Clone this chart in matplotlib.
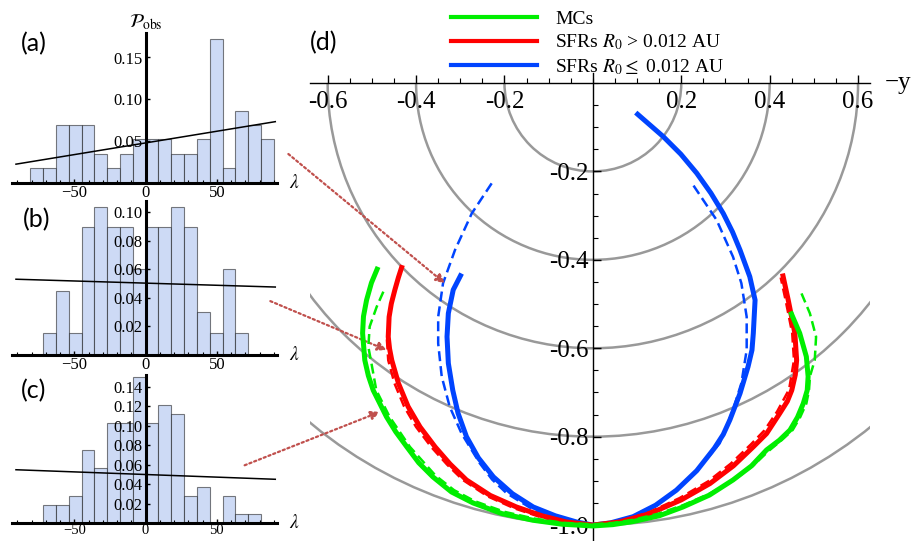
import numpy as np
import matplotlib.pyplot as plt
import matplotlib.transforms as mtransforms
from matplotlib.lines import Line2D
from matplotlib.patches import Arc
from matplotlib.ticker import MultipleLocator, FixedLocator, FormatStrFormatter

plt.rcParams['font.family'] = ['Liberation Serif', 'DejaVu Serif']
plt.rcParams['mathtext.fontset'] = 'stix'

# ---- histogram data (lambda in deg, probability per 9 deg bin) ----
lam_edges = [-81, -72, -63, -54, -45, -36, -27, -18, -9, 0,
             9, 18, 27, 36, 45, 54, 63, 72, 81, 90]
p_a = [0.017, 0.017, 0.069, 0.069, 0.069, 0.034, 0.017, 0.034, 0.052, 0.052,
       0.052, 0.034, 0.034, 0.052, 0.172, 0.017, 0.086, 0.069, 0.052]
p_b = [0.0, 0.015, 0.045, 0.015, 0.090, 0.104, 0.090, 0.090, 0.060, 0.090,
       0.090, 0.104, 0.090, 0.030, 0.015, 0.060, 0.015, 0.0, 0.0]
p_c = [0.0, 0.019, 0.019, 0.028, 0.075, 0.056, 0.103, 0.103, 0.150, 0.103,
       0.121, 0.112, 0.028, 0.037, 0.0, 0.028, 0.009, 0.009, 0.0]

# linear fits (value at lambda = -91 and +91)
trend_lam = [-91, 91]
trend_a = [0.022, 0.073]
trend_b = [0.053, 0.0475]
trend_c = [0.0547, 0.0449]

# ---- panel (d): curves (-y, z) ----
mc_x = [-0.486, -0.501, -0.512, -0.519, -0.521, -0.516, -0.508, -0.497, -0.467, -0.446, -0.421,
        -0.394, -0.362, -0.320, -0.271, -0.206, -0.136, -0.070, 0.0, 0.045, 0.091, 0.150, 0.204,
        0.264, 0.317, 0.359, 0.393, 0.422, 0.446, 0.463, 0.476, 0.485, 0.487, 0.483, 0.468, 0.447]
mc_y = [-0.416, -0.452, -0.491, -0.528, -0.566, -0.627, -0.662, -0.695, -0.755, -0.789, -0.823,
        -0.859, -0.891, -0.925, -0.950, -0.974, -0.989, -0.998, -1.002, -0.999, -0.992, -0.979, -0.959,
        -0.932, -0.898, -0.866, -0.830, -0.808, -0.785, -0.756, -0.725, -0.695, -0.664, -0.619, -0.566, -0.517]
mc_dash_x = [-0.474, -0.489, -0.505, -0.508, -0.501, -0.490, -0.460, -0.414, -0.356, -0.314, -0.267,
             -0.200, -0.134, -0.066, 0.0, 0.046, 0.091, 0.149, 0.204, 0.264, 0.321, 0.362, 0.398,
             0.427, 0.452, 0.469, 0.483, 0.489, 0.491, 0.502, 0.505, 0.491, 0.472]
mc_dash_y = [-0.472, -0.506, -0.551, -0.597, -0.634, -0.695, -0.755, -0.823, -0.888, -0.921, -0.946,
             -0.970, -0.985, -0.995, -0.998, -0.995, -0.988, -0.974, -0.955, -0.929, -0.897, -0.866, -0.832,
             -0.808, -0.785, -0.756, -0.725, -0.695, -0.664, -0.627, -0.574, -0.521, -0.476]

big_x = [-0.431, -0.440, -0.448, -0.456, -0.461, -0.463, -0.460, -0.455, -0.440, -0.418, -0.391,
         -0.357, -0.323, -0.286, -0.232, -0.173, -0.115, -0.060, 0.0, 0.060, 0.129, 0.200, 0.265,
         0.318, 0.363, 0.393, 0.423, 0.440, 0.450, 0.458, 0.461, 0.457, 0.442, 0.429]
big_y = [-0.412, -0.440, -0.468, -0.499, -0.529, -0.574, -0.601, -0.627, -0.679, -0.732, -0.778,
         -0.823, -0.862, -0.898, -0.933, -0.959, -0.979, -0.993, -1.0, -0.993, -0.974, -0.943, -0.906,
         -0.866, -0.823, -0.793, -0.747, -0.720, -0.695, -0.660, -0.627, -0.566, -0.491, -0.431]
big_dash_x = [-0.466, -0.463, -0.449, -0.427, -0.400, -0.366, -0.330, -0.294, -0.238, -0.178, -0.118,
              -0.060, 0.0, 0.060, 0.127, 0.196, 0.261, 0.312, 0.357, 0.388, 0.417, 0.444, 0.455,
              0.451, 0.436, 0.425]
big_dash_y = [-0.58, -0.627, -0.679, -0.732, -0.778, -0.823, -0.863, -0.898, -0.935, -0.962, -0.982,
              -0.995, -1.0, -0.993, -0.971, -0.939, -0.901, -0.861, -0.818, -0.786, -0.743, -0.693, -0.627,
              -0.566, -0.491, -0.44]

small_x = [-0.297, -0.316, -0.327, -0.330, -0.327, -0.317, -0.305, -0.286, -0.259, -0.225, -0.182,
           -0.135, -0.085, -0.037, 0.0, 0.040, 0.091, 0.142, 0.189, 0.235, 0.275, 0.295, 0.310,
           0.333, 0.351, 0.360, 0.363, 0.367, 0.355, 0.333, 0.316, 0.295, 0.267, 0.235, 0.199, 0.159, 0.097]
small_y = [-0.431, -0.468, -0.521, -0.574, -0.634, -0.695, -0.747, -0.800, -0.848, -0.891, -0.929,
           -0.959, -0.979, -0.993, -1.0, -0.995, -0.981, -0.955, -0.921, -0.877, -0.826, -0.795, -0.762,
           -0.702, -0.642, -0.604, -0.566, -0.491, -0.438, -0.378, -0.337, -0.295, -0.249, -0.204, -0.161, -0.121, -0.067]
small_dash_x = [-0.229, -0.274, -0.312, -0.339, -0.350, -0.350, -0.342, -0.324, -0.297, -0.256, -0.228,
                -0.195, -0.135, -0.070, 0.0, 0.050, 0.100, 0.145, 0.192, 0.235, 0.264, 0.287, 0.317,
                0.336, 0.348, 0.348, 0.336, 0.317, 0.280, 0.227]
small_dash_y = [-0.227, -0.295, -0.378, -0.453, -0.529, -0.589, -0.664, -0.732, -0.793, -0.860, -0.897,
                -0.928, -0.965, -0.990, -1.0, -0.995, -0.978, -0.955, -0.918, -0.876, -0.843, -0.815, -0.740,
                -0.679, -0.604, -0.529, -0.453, -0.393, -0.310, -0.231]

guide_radii = [0.2, 0.4, 0.6, 0.8, 1.0]

c_green = '#00ee00'
c_red = '#ff0000'
c_blue = '#0044ff'
c_arrow = '#c0504d'

fig = plt.figure(figsize=(9.19, 5.41), dpi=100)


def hist_panel(rect, probs, trend, ymax, ystep, ylabel=False, xlab_size=12):
    ax = fig.add_axes(rect)
    widths = np.diff(lam_edges)
    ax.bar(lam_edges[:-1], probs, width=widths, align='edge',
           color='#cddaf5', edgecolor=(0, 0, 0, 0.5), linewidth=0.8, zorder=1)
    ax.plot(trend_lam, trend, color='black', lw=1.1, zorder=3)
    ax.set_xlim(-94, 92)
    ax.set_ylim(0, ymax)
    for s in ['top', 'right']:
        ax.spines[s].set_visible(False)
    for s in ['left', 'bottom']:
        ax.spines[s].set_position(('data', 0))
        ax.spines[s].set_linewidth(2.2)
        ax.spines[s].set_zorder(4)
    ax.xaxis.set_major_locator(FixedLocator([-50, 0, 50]))
    ax.xaxis.set_minor_locator(MultipleLocator(10))
    yt = np.arange(ystep, ymax, ystep)
    ax.yaxis.set_major_locator(FixedLocator(yt))
    ax.yaxis.set_major_formatter(FormatStrFormatter('%.2f'))
    ax.tick_params(axis='both', which='major', direction='in', length=3, width=1,
                   labelsize=12, pad=2)
    ax.tick_params(axis='x', which='major', labelsize=xlab_size)
    ax.tick_params(axis='x', which='minor', direction='in', length=2, width=0.8)
    ax.patch.set_alpha(0)
    tr = mtransforms.blended_transform_factory(ax.transAxes, ax.transData)
    ax.text(1.045, 0, r'$\lambda$', transform=tr, ha='left', va='center', fontsize=14)
    if ylabel:
        ax.text(0, ymax * 1.07, r'$\mathcal{P}_{\rm obs}$', transform=ax.transData,
                ha='center', va='center', fontsize=14, clip_on=False)
    return ax


W, H = 919, 541
ax_a = hist_panel([11.7 / W, (H - 182.5) / H, 265 / W, 150 / H], p_a, trend_a, 0.18, 0.05, ylabel=True)
ax_b = hist_panel([11.7 / W, (H - 354.5) / H, 265 / W, 153.4 / H], p_b, trend_b, 0.108, 0.02)
ax_c = hist_panel([11.7 / W, (H - 523) / H, 265 / W, 148 / H], p_c, trend_c, 0.152, 0.02,
                  xlab_size=10.5)
ax_c.tick_params(axis='x', which='major', pad=0.5)

# ---- panel (d) ----
ax_d = fig.add_axes([310 / W, 0, 560 / W, (H - 73) / H])
ax_d.set_xlim(-0.640, 0.627)
ax_d.set_ylim(-1.036, 0.0226)
ax_d.patch.set_alpha(0)

for r in guide_radii:
    ax_d.add_patch(Arc((0, 0), 2 * r, 2 * r, theta1=180, theta2=360,
                       color='#999999', lw=1.8, zorder=1))

dash_kw = dict(lw=1.8, dashes=(4, 2), solid_capstyle='butt')
solid_kw = dict(lw=3.6, solid_joinstyle='round', solid_capstyle='butt')
ax_d.plot(small_dash_x, small_dash_y, color=c_blue, zorder=2, **dash_kw)
ax_d.plot(small_x, small_y, color=c_blue, zorder=3, **solid_kw)
ax_d.plot(big_dash_x, big_dash_y, color=c_red, zorder=4, **dash_kw)
ax_d.plot(big_x, big_y, color=c_red, zorder=5, **solid_kw)
ax_d.plot(mc_dash_x, mc_dash_y, color=c_green, zorder=6, **dash_kw)
ax_d.plot(mc_x, mc_y, color=c_green, zorder=7, **solid_kw)

for s in ['top', 'right']:
    ax_d.spines[s].set_visible(False)
for s in ['left', 'bottom']:
    ax_d.spines[s].set_position(('data', 0))
    ax_d.spines[s].set_linewidth(1)
ax_d.xaxis.set_major_locator(FixedLocator([-0.6, -0.4, -0.2, 0.2, 0.4, 0.6]))
ax_d.xaxis.set_minor_locator(MultipleLocator(0.05))
ax_d.yaxis.set_major_locator(FixedLocator([-0.2, -0.4, -0.6, -0.8, -1.0]))
ax_d.yaxis.set_minor_locator(MultipleLocator(0.05))
ax_d.xaxis.set_major_formatter(FormatStrFormatter('%.1f'))
ax_d.yaxis.set_major_formatter(FormatStrFormatter('%.1f'))
ax_d.tick_params(axis='x', which='major', direction='in', length=6, width=1, labelsize=18, pad=5.5)
ax_d.tick_params(axis='y', which='major', direction='in', length=6, width=1, labelsize=18, pad=3)
ax_d.tick_params(which='minor', direction='in', length=3.5, width=0.8)

tr_d = mtransforms.blended_transform_factory(ax_d.transAxes, ax_d.transData)
ax_d.text(1.027, 0, '\u2212y', transform=tr_d, ha='left', va='center', fontsize=18)

handles = [Line2D([], [], color=c_green, lw=3),
           Line2D([], [], color=c_red, lw=3),
           Line2D([], [], color=c_blue, lw=3)]
labels = ['MCs', r'SFRs $R_0$ > 0.012 AU', r'SFRs $R_0 \leq$ 0.012 AU']
ax_d.legend(handles, labels, loc='upper left', bbox_to_anchor=(451 / W, 1 - 10 / H),
            bbox_transform=fig.transFigure, frameon=False, borderpad=0, borderaxespad=0,
            handlelength=4.4, handletextpad=0.95, labelspacing=0.25, fontsize=14)

# dotted arrows from histograms to the curves
arrow_kw = dict(arrowstyle='-|>', linestyle=(0, (1, 1.3)), lw=1.6, color=c_arrow,
                shrinkA=0, shrinkB=0, mutation_scale=13)
ax_d.annotate('', xy=(-0.335, -0.453), xytext=(1.044, 0.19), textcoords=ax_a.transAxes,
              arrowprops=arrow_kw, annotation_clip=False)
ax_d.annotate('', xy=(-0.467, -0.604), xytext=(0.976, 0.348), textcoords=ax_b.transAxes,
              arrowprops=arrow_kw, annotation_clip=False)
ax_d.annotate('', xy=(-0.482, -0.744), xytext=(0.879, 0.39), textcoords=ax_c.transAxes,
              arrowprops=arrow_kw, annotation_clip=False)

# panel labels
for lbl, (px, py) in zip(['(a)', '(b)', '(c)', '(d)'],
                         [(34, 44), (36.5, 220), (34, 391), (324, 42.5)]):
    fig.text(px / W, 1 - py / H, lbl, ha='center', va='center', fontsize=18,
             family=['Lato', 'DejaVu Sans'])

fig.savefig('out.png', dpi=100)
